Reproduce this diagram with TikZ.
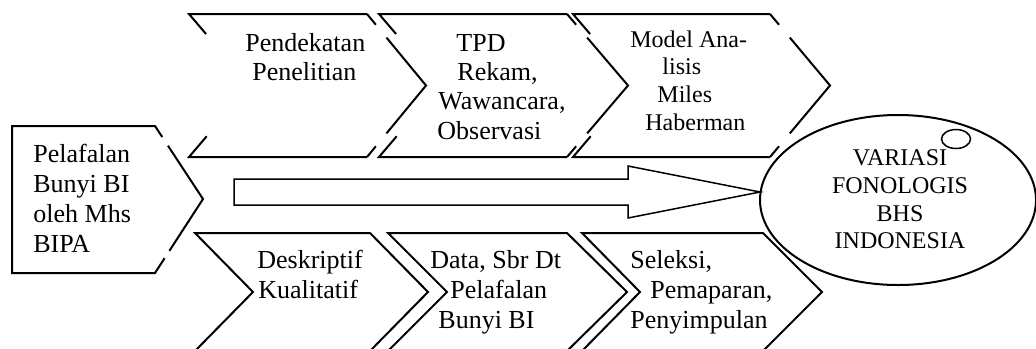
\documentclass[tikz,border=0pt]{standalone}
\usepackage{fontspec}
\setmainfont{Liberation Serif}
\usetikzlibrary{calc}
\tikzset{
  shp/.style={draw=black, line width=1pt, line join=miter},
  thin shp/.style={draw=black, line width=0.75pt, line join=miter},
  txt/.style={anchor=base west, inner sep=0pt, font=\fontsize{13}{15}\selectfont},
  txts/.style={anchor=base west, inner sep=0pt, font=\fontsize{12}{14}\selectfont},
  txtc/.style={anchor=base, inner sep=0pt, font=\fontsize{12}{14}\selectfont},
}
\newcommand\TopChev[4]{%
  \draw[shp] (#3,14) -- (#1,14) -- ($(#1,14)!0.28!(#2,85.5)$);
  \draw[shp] ($(#1,157)!0.29!(#2,85.5)$) -- (#1,157) -- (#3,157);
  \draw[shp] (#3,14) -- ($(#3,14)!0.15!(#4,85.5)$);
  \draw[shp] ($(#3,14)!0.33!(#4,85.5)$) -- (#4,85.5) -- ($(#3,157)!0.33!(#4,85.5)$);
  \draw[shp] ($(#3,157)!0.15!(#4,85.5)$) -- (#3,157);
}
\newcommand\BotChev[4]{%
  \draw[shp] (#1,233) -- (#3,233) -- (#4,292) -- (#3,351) -- (#1,351) -- (#2,292) -- cycle;
}
\begin{document}
\begin{tikzpicture}[x=0.5pt,y=-0.5pt]
\useasboundingbox (0,0) rectangle (1036,348);
\clip (0,0) rectangle (1036,348);
% left box
\draw[shp] ($(155,126)!0.15!(203,199)$) -- (155,126) -- (12,126) -- (12,273) -- (155,273) -- ($(155,273)!0.2!(203,199)$);
\draw[shp] ($(155,126)!0.27!(203,199)$) -- (203,199) -- ($(155,273)!0.3!(203,199)$);
% top chevrons
\TopChev{189}{250}{367}{426}
\TopChev{379}{440}{567}{628}
\TopChev{573}{634}{770}{830}
% ellipse
\draw[shp] (898,200) ellipse [x radius=69pt, y radius=42.5pt];
\draw[thin shp] (956,139) ellipse [x radius=7.25pt, y radius=4.75pt];
% bottom chevrons
\BotChev{195}{253}{370}{428}
\BotChev{388}{447}{567}{627}
\BotChev{582}{640}{763}{822}
% block arrow
\draw[thin shp] (234,179) -- (628,179) -- (628,166) -- (760,192) -- (628,218) -- (628,205) -- (234,205) -- cycle;
% texts
\node[txt] (l1) at (33,162) {Pelafalan};
\node[txt] (l2) at (33,192) {Bunyi BI};
\node[txt] (l3) at (33,222) {oleh Mhs};
\node[txt] (l4) at (33,252) {BIPA};
\node[txt] (a1) at (245,51) {Pendekatan};
\node[txt] (a2) at (252,80) {Penelitian};
\node[txt] (b1) at (456,51) {TPD};
\node[txt] (b2) at (457,80) {Rekam,};
\node[txt] (b3) at (438,109) {Wawancara,};
\node[txt] (b4) at (437,139) {Observasi};
\node[txts] (c1) at (630,47) {Model Ana-};
\node[txts] (c2) at (662,74) {lisis};
\node[txts] (c3) at (657,102) {Miles};
\node[txts] (c4) at (645,130) {Haberman};
\node[txt] (d1) at (257,268) {Deskriptif};
\node[txt] (d2) at (258,298) {Kualitatif};
\node[txt] (e1) at (430,268) {Data, Sbr Dt};
\node[txt] (e2) at (450,298) {Pelafalan};
\node[txt] (e3) at (438,328) {Bunyi BI};
\node[txt] (f1) at (630,268) {Seleksi,};
\node[txt] (f2) at (650,298) {Pemaparan,};
\node[txt] (f3) at (630,328) {Penyimpulan};
\node[txtc] (g1) at (900,165) {VARIASI};
\node[txtc] (g2) at (900,193) {FONOLOGIS};
\node[txtc] (g3) at (900,221) {BHS};
\node[txtc] (g4) at (900,248) {INDONESIA};
\end{tikzpicture}
\end{document}
